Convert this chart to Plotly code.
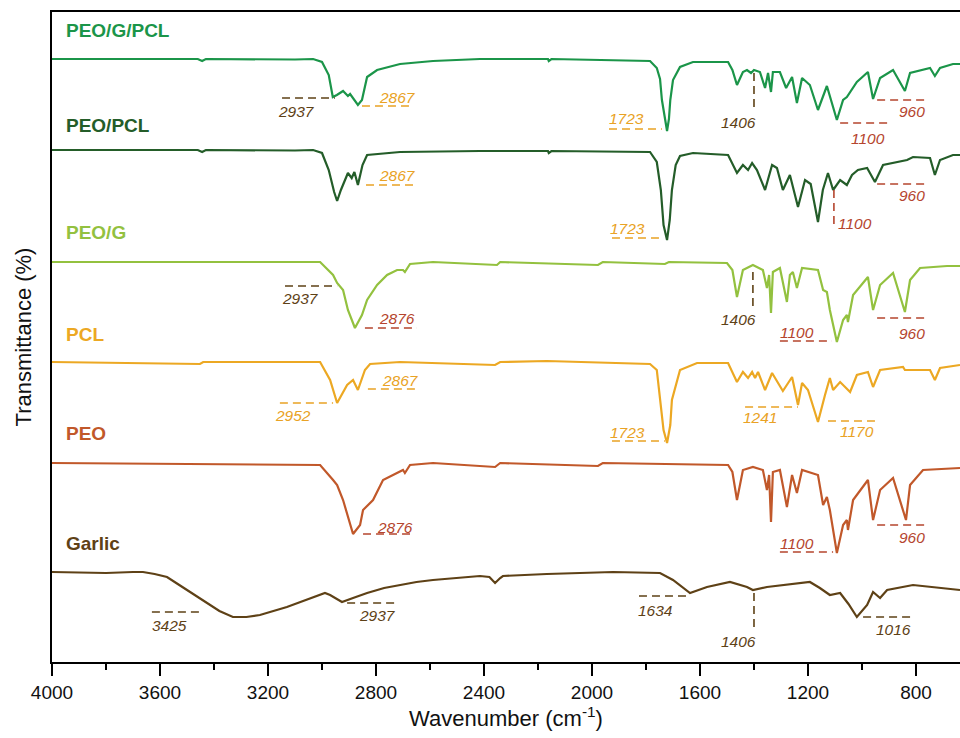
import plotly.graph_objects as go

# ---------------- data (wavenumber in cm-1, relative transmittance) ----------------
series_names = ["PEO/G/PCL", "PEO/PCL", "PEO/G", "PCL", "PEO", "Garlic"]

wn_peo_g_pcl = [4000, 3700, 3460, 3444, 3430, 3100, 3033, 3000, 2975, 2960, 2945, 2922, 2904, 2896, 2867,
                2852, 2833, 2796, 2711, 2589, 2415, 2163, 2160, 2150, 1785, 1760, 1748, 1741, 1730, 1722,
                1715, 1710, 1700, 1674, 1626, 1496, 1480, 1463, 1441, 1426, 1411, 1400, 1378, 1359, 1348,
                1337, 1330, 1304, 1281, 1259, 1241, 1222, 1193, 1163, 1130, 1093, 1070, 1056, 1019, 978,
                959, 933, 885, 841, 822, 748, 730, 711, 663, 637]
t_peo_g_pcl = [100, 100, 100, 98, 100, 99.5, 100, 97, 84, 62, 64, 68, 63, 65, 54,
               59, 82, 89, 95, 98, 100, 100, 98, 100, 98, 91, 80, 59, 40, 28,
               40, 59, 79, 92, 97, 97, 89, 74, 87, 89, 86, 89, 87, 71, 86,
               67, 87, 87, 71, 82, 56, 81, 74, 49, 73, 39, 59, 62, 77, 87,
               60, 81, 89, 68, 86, 91, 83, 91, 95, 95]

wn_peo_pcl = [4000, 3700, 3460, 3444, 3430, 3100, 3033, 3000, 2975, 2955, 2944, 2930, 2904, 2890, 2880,
              2867, 2850, 2833, 2711, 2415, 2163, 2160, 2150, 1785, 1760, 1745, 1735, 1722, 1712, 1704,
              1690, 1674, 1626, 1496, 1463, 1441, 1422, 1407, 1389, 1359, 1333, 1315, 1293, 1267, 1237,
              1211, 1190, 1163, 1145, 1126, 1107, 1081, 1056, 1037, 1015, 981, 952, 922, 833, 811,
              748, 730, 711, 663, 637]
t_peo_pcl = [100, 100, 100, 98, 100, 99.5, 100, 97, 80, 58, 49, 60, 77, 72, 78,
             65, 85, 95, 98, 99, 99, 97, 99, 98, 88, 60, 25, 10, 30, 60,
             85, 94, 97, 95, 77, 85, 80, 87, 80, 60, 85, 82, 60, 75, 43,
             70, 66, 28, 60, 77, 60, 70, 65, 75, 80, 82, 68, 85, 90, 93,
             92, 75, 90, 95, 95]

wn_peo_g = [4000, 3500, 3030, 3007, 2959, 2944, 2922, 2904, 2878, 2852, 2833, 2796, 2759, 2722, 2700,
            2693, 2674, 2589, 2352, 2340, 1978, 1960, 1730, 1715, 1500, 1480, 1463, 1441, 1404, 1367,
            1352, 1344, 1337, 1330, 1304, 1278, 1267, 1256, 1241, 1222, 1163, 1144, 1130, 1119, 1093,
            1070, 1056, 1052, 1033, 978, 959, 933, 885, 841, 822, 785, 685, 637]
t_peo_g = [100, 100, 100, 100, 87, 79, 72, 52, 34, 47, 62, 77, 87, 92, 92,
           90, 98, 100, 97, 100, 97, 100, 98, 100, 99, 92, 65, 92, 97, 92,
           74, 87, 49, 90, 94, 60, 87, 90, 74, 94, 92, 72, 70, 52, 20,
           42, 47, 40, 67, 85, 52, 77, 89, 50, 82, 94, 96, 96]

wn_pcl = [4000, 3452, 3440, 3007, 2970, 2944, 2907, 2885, 2867, 2841, 2822, 2711, 2359, 2340, 2167,
          1785, 1760, 1748, 1735, 1722, 1710, 1704, 1674, 1611, 1496, 1463, 1441, 1422, 1407, 1396,
          1385, 1359, 1333, 1293, 1259, 1237, 1222, 1200, 1163, 1137, 1119, 1107, 1081, 1044, 1019,
          978, 959, 933, 848, 841, 748, 730, 711, 637]
t_pcl = [100, 98, 100, 100, 82, 59, 77, 82, 72, 92, 98, 100, 97, 100, 101,
         98, 92, 62, 32, 19, 37, 62, 92, 99, 99, 80, 90, 84, 90, 84,
         90, 72, 89, 71, 85, 57, 79, 72, 40, 67, 84, 72, 80, 70, 87,
         90, 75, 92, 95, 92, 92, 82, 94, 97]

wn_peo = [4000, 3500, 3007, 2959, 2944, 2922, 2885, 2859, 2848, 2811, 2774, 2737, 2700, 2693, 2674,
          2589, 2359, 2340, 1978, 1960, 1496, 1480, 1463, 1441, 1404, 1367, 1352, 1344, 1337, 1330,
          1304, 1278, 1259, 1241, 1222, 1163, 1144, 1130, 1119, 1093, 1070, 1056, 1052, 1033, 978,
          959, 933, 885, 837, 822, 774, 637]
t_peo = [100, 99, 98, 83, 78, 63, 29, 38, 53, 63, 83, 88, 93, 90, 98,
         100, 96, 100, 97, 100, 98, 91, 63, 93, 96, 93, 73, 88, 41, 91,
         93, 56, 88, 70, 93, 88, 58, 66, 53, 10, 38, 43, 33, 63, 83,
         43, 73, 85, 43, 78, 93, 95]

wn_garlic = [4000, 3800, 3700, 3663, 3620, 3574, 3540, 3500, 3460, 3426, 3380, 3330, 3280, 3230, 3180,
             3130, 3080, 3033, 2989, 2970, 2926, 2885, 2833, 2770, 2711, 2650, 2589, 2500, 2415, 2380,
             2359, 2340, 2330, 2167, 1922, 1748, 1700, 1637, 1574, 1489, 1426, 1404, 1352, 1193, 1156,
             1119, 1081, 1050, 1019, 981, 959, 933, 907, 811, 685, 637]
t_garlic = [100, 99, 100, 100, 98, 95, 89, 82, 75, 69, 61, 55, 55, 57, 61,
            65, 70, 75, 79, 77, 70, 74, 79, 84, 87, 90, 92, 94, 96, 95,
            89, 94, 96, 98, 100, 99, 92, 79, 85, 90, 85, 82, 85, 90, 84,
            77, 79, 68, 55, 67, 80, 74, 82, 87, 83, 82]

wavenumbers = [wn_peo_g_pcl, wn_peo_pcl, wn_peo_g, wn_pcl, wn_peo, wn_garlic]
transmittance = [t_peo_g_pcl, t_peo_pcl, t_peo_g, t_pcl, t_peo, t_garlic]

# vertical stacking offsets of the spectra
offsets = [503, 412, 300, 200, 99, -10]

x_ticks = [4000, 3600, 3200, 2800, 2400, 2000, 1600, 1200, 800]

# ---------------- style ----------------
line_colors = ["#1b9549", "#245d29", "#93c13f", "#eca823", "#c1582a", "#5e4116"]
label_y = [632, 537, 430, 328, 229, 119]
ann_colors = {"b": "#5e4116", "o": "#e9a225", "r": "#b5452e"}

# peak marks: (text, colour, x0, x1, y0, y1, text_x, text_y)
peak_marks = [
    ("2937", "b", 3148, 2952, 564, 564, 3093, 551),
    ("2867", "o", 2852, 2663, 556, 556, 2722, 565),
    ("1723", "o", 1937, 1741, 533, 533, 1874, 544),
    ("1406", "b", 1400, 1400, 589, 550, 1456, 540),
    ("1100", "r", 1081, 889, 539, 539, 978, 524),
    ("960", "r", 944, 756, 562, 562, 815, 551),

    ("2867", "o", 2837, 2648, 477, 477, 2719, 487),
    ("1723", "o", 1926, 1737, 424, 424, 1867, 434),
    ("1100", "r", 1104, 1104, 472, 434, 1026, 439),
    ("960", "r", 944, 756, 478, 478, 815, 467),

    ("2937", "b", 3137, 2944, 376, 376, 3081, 364),
    ("2876", "r", 2841, 2648, 334, 334, 2722, 344),
    ("1406", "b", 1404, 1404, 390, 354, 1459, 343),
    ("1100", "r", 1304, 1111, 321, 321, 1241, 330),
    ("960", "r", 944, 756, 344, 344, 815, 329),

    ("2952", "o", 3156, 2959, 259, 259, 3107, 247),
    ("2867", "o", 2830, 2644, 273, 273, 2711, 282),
    ("1723", "o", 1926, 1730, 221, 221, 1867, 230),
    ("1241", "o", 1433, 1237, 255, 255, 1378, 245),
    ("1170", "o", 1126, 944, 241, 241, 1019, 231),

    ("2876", "r", 2848, 2663, 128, 128, 2730, 135),
    ("1100", "r", 1304, 1107, 110, 110, 1241, 119),
    ("960", "r", 944, 756, 137, 137, 815, 125),

    ("3425", "b", 3630, 3441, 50, 50, 3563, 37),
    ("2937", "b", 2907, 2719, 59, 59, 2793, 47),
    ("1634", "b", 1826, 1637, 66, 66, 1763, 52),
    ("1406", "b", 1400, 1400, 69, 32, 1456, 21),
    ("1016", "b", 996, 811, 45, 45, 885, 33),
]

FONT = "Liberation Sans, Arial, sans-serif"

fig = go.Figure()
for name, wn, t, off, col in zip(series_names, wavenumbers, transmittance, offsets, line_colors):
    fig.add_trace(go.Scatter(
        x=wn, y=[v + off for v in t], mode="lines", name=name,
        line=dict(color=col, width=2.2),
        showlegend=False, hoverinfo="x+name"))

annotations = []
for name, col, ly in zip(series_names, line_colors, label_y):
    annotations.append(dict(x=0.013, xref="paper", y=ly, yref="y", text="<b>%s</b>" % name,
                            showarrow=False, xanchor="left", yanchor="middle",
                            font=dict(family=FONT, size=19, color=col)))

shapes = []
for text, c, x0, x1, y0, y1, tx, ty in peak_marks:
    col = ann_colors[c]
    shapes.append(dict(type="line", xref="x", yref="y", x0=x0, x1=x1, y0=y0, y1=y1,
                       line=dict(color=col, width=1.6, dash="8px,5px")))
    annotations.append(dict(x=tx, y=ty, xref="x", yref="y", text="<i>%s</i>" % text,
                            showarrow=False, xanchor="center", yanchor="middle",
                            font=dict(family=FONT, size=15.5, color=col)))

fig.update_layout(
    width=960, height=738,
    margin=dict(l=52, r=0, t=12, b=76),
    paper_bgcolor="white", plot_bgcolor="white",
    annotations=annotations, shapes=shapes,
    font=dict(family=FONT, color="#111111"),
    xaxis=dict(
        range=[4000, 637], tickvals=x_ticks, ticks="outside", ticklen=12, tickwidth=2,
        tickcolor="black", showline=True, linewidth=2, linecolor="black", mirror=True,
        showgrid=False, zeroline=False, tickfont=dict(family=FONT, size=19, color="#111111"),
        minor=dict(dtick=200, tick0=0, ticks="outside", ticklen=6, tickwidth=2, tickcolor="black"),
        title=dict(text="Wavenumber (cm<sup>-1</sup>)", font=dict(family=FONT, size=22, color="#111111"),
                   standoff=6),
    ),
    yaxis=dict(
        range=[0, 650], showticklabels=False, ticks="", showline=True, linewidth=2,
        linecolor="black", showgrid=False, zeroline=False,
        title=dict(text="Transmittance (%)", font=dict(family=FONT, size=22, color="#111111"),
                   standoff=12),
    ),
)

fig.write_html("out.html")
